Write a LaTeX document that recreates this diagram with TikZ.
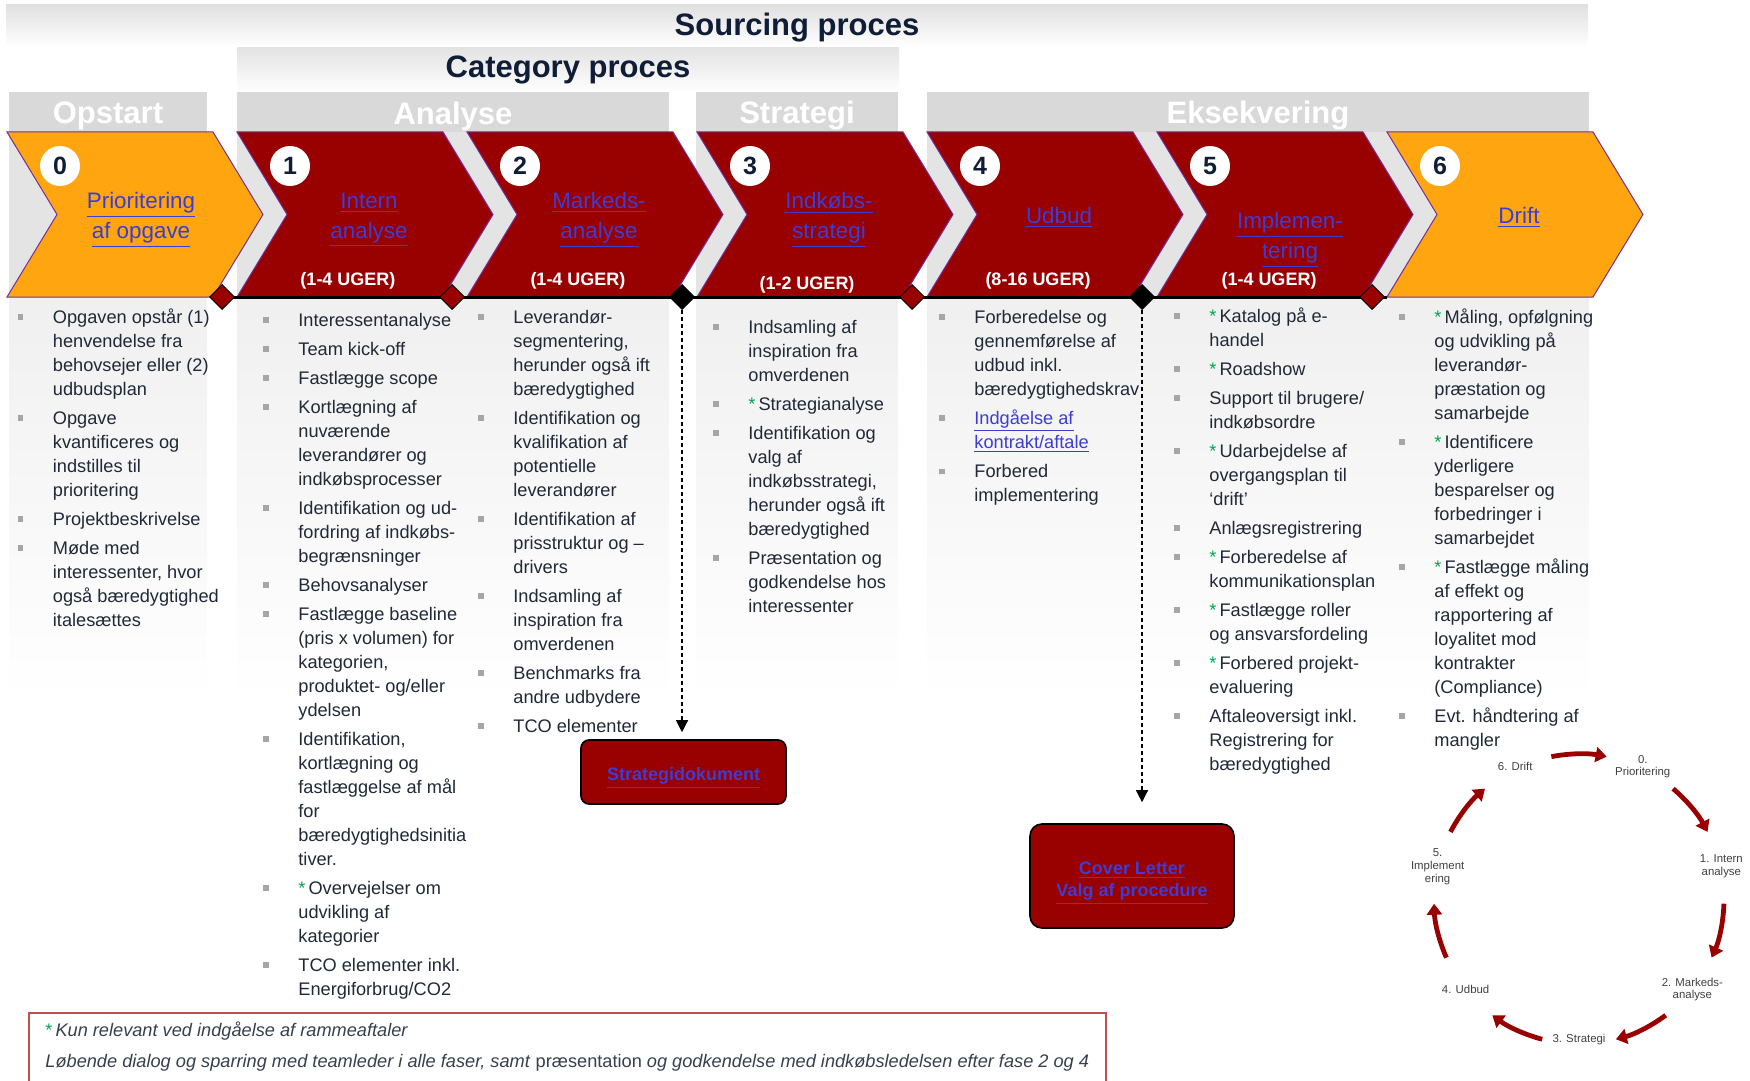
\documentclass[tikz,border=0pt]{standalone}
\usepackage{fontspec}
\setmainfont{Liberation Sans}
\usetikzlibrary{shapes.geometric,arrows.meta,calc}
\definecolor{dred}{HTML}{990000}
\definecolor{orng}{HTML}{FFA510}
\definecolor{purp}{HTML}{7030A0}
\definecolor{navy}{HTML}{0F1E36}
\definecolor{txt}{HTML}{1F2937}
\definecolor{lnk}{HTML}{3C3CD6}
\definecolor{hdr}{HTML}{D9D9D9}
\definecolor{bgg}{HTML}{E4E4E4}
\definecolor{grn}{HTML}{00A651}
\definecolor{bulc}{HTML}{A6A6A6}
\definecolor{notec}{HTML}{C0504D}
\definecolor{cyct}{HTML}{404040}
\definecolor{notet}{HTML}{36404E}
\newcommand\lk[1]{\textcolor{lnk}{\underline{#1}}}
\newcommand\B{\makebox[17.5pt][l]{\raisebox{1.8pt}{\textcolor{bulc}{\rule{2.6pt}{2.6pt}}}}}
\newcommand\gs{\textcolor{grn}{*}\,}
\newcommand\IG{\\[2.5pt]}
\begin{document}
\begin{tikzpicture}[x=0.5pt,y=-0.5pt,
  hdrtxt/.style={text=white,font=\fontsize{15.5}{18}\selectfont\bfseries,inner sep=0},
  bantxt/.style={text=navy,font=\fontsize{15.5}{18}\selectfont\bfseries,inner sep=0},
  numc/.style={circle,fill=white,minimum size=20pt,inner sep=0,text=navy,font=\fontsize{12.5}{14}\selectfont\bfseries},
  ttl/.style={align=center,inner sep=0,font=\fontsize{11.2}{15}\selectfont},
  dur/.style={text=white,inner sep=0,font=\fontsize{9}{11}\selectfont\bfseries},
  dmd/.style={diamond,aspect=1,minimum width=12.5pt,minimum height=12.5pt,inner sep=0,draw=black,line width=0.5pt},
  col/.style={anchor=north west,inner sep=0,text=txt,font=\fontsize{9.1}{12}\selectfont},
  docbox/.style={rounded corners=4pt,fill=dred,draw=black,line width=0.8pt,align=center,font=\fontsize{9}{11}\selectfont\bfseries},
  darr/.style={dash pattern=on 2pt off 1.5pt,line width=0.6pt,-{Triangle[length=6pt,width=6pt]}},
  cyc/.style={draw=dred,line width=2.4pt,-{Triangle[length=5.5pt,width=7.5pt]}},
  cl/.style={align=center,inner sep=0,text=cyct,font=\fontsize{5.7}{6.3}\selectfont},
  note/.style={anchor=west,inner sep=0,text=notet,font=\fontsize{9.1}{10.5}\selectfont}
]
\useasboundingbox (0,0) rectangle (1750,1081);
% banners
\shade[top color=gray!24,bottom color=white] (6,5) rectangle (1588,47);
\shade[top color=gray!22,bottom color=white] (237,48) rectangle (899,92);
\node[bantxt] (src) at (797,28) {Sourcing proces};
\node[bantxt] (cat) at (568,70) {Category proces};
% group backgrounds and headers
\foreach \a/\b in {9/207,237/669,696/898,927/1589}{
  \fill[hdr] (\a,92) rectangle (\b,132);
  \fill[bgg] (\a,132) rectangle (\b,297);
  \shade[top color=gray!12,bottom color=white] (\a,297) rectangle (\b,700);
}
\node[hdrtxt] (h0) at (108,116) {Opstart};
\node[hdrtxt] (h1) at (453,116) {Analyse};
\node[hdrtxt] (h2) at (797,116) {Strategi};
\node[hdrtxt] (h3) at (1258,116) {Eksekvering};
% chevrons
\foreach \i/\c in {0/orng,1/dred,2/dred,3/dred,4/dred,5/dred,6/orng}{
  \pgfmathsetmacro\xx{7+230*\i}
  \filldraw[fill=\c,draw=purp,line width=0.5pt] (\xx,132) -- ++(206,0) -- ++(50,82.5) -- ++(-50,82.5) -- ++(-206,0) -- ++(50,-82.5) -- cycle;
}
\draw[line width=1.5pt] (222,297) -- (1387,297);
\node[dmd,fill=dred] (d0) at (222,297) {};
\node[dmd,fill=dred] (d1) at (452,297) {};
\node[dmd,fill=black] (d2) at (682,297) {};
\node[dmd,fill=dred] (d3) at (912,297) {};
\node[dmd,fill=black] (d4) at (1142,297) {};
\node[dmd,fill=dred] (d5) at (1372,297) {};
% numbers
\foreach \i in {0,...,6}{
  \node[numc] (n\i) at ({60+230*\i},166) {\i};
}
% titles
\node[ttl] (t0) at (141,220) {\lk{Prioritering}\\\lk{af opgave}};
\node[ttl] (t1) at (369,220) {\lk{Intern}\\\lk{analyse}};
\node[ttl] (t2) at (599,220) {\lk{Markeds-}\\\lk{analyse}};
\node[ttl] (t3) at (829,220) {\lk{Indkøbs-}\\\lk{strategi}};
\node[ttl] (t4) at (1059,217) {\lk{Udbud}};
\node[ttl] (t5) at (1290,240) {\lk{Implemen-}\\\lk{tering}};
\node[ttl] (t6) at (1519,217) {\lk{Drift}};
% durations
\node[dur] (u1) at (348,281) {(1-4 UGER)};
\node[dur] (u2) at (578,281) {(1-4 UGER)};
\node[dur] (u3) at (807,285) {(1-2 UGER)};
\node[dur] (u4) at (1038,281) {(8-16 UGER)};
\node[dur] (u5) at (1269,281) {(1-4 UGER)};
% columns
\node[col] (c0) at (17.5,306) {\begin{tabular}{@{}l@{}l@{}}
\B & Opgaven opstår (1)\\
 & henvendelse fra\\
 & behovsejer eller (2)\\
 & udbudsplan\IG
\B & Opgave\\
 & kvantificeres og\\
 & indstilles til\\
 & prioritering\IG
\B & Projektbeskrivelse\IG
\B & Møde med\\
 & interessenter, hvor\\
 & også bæredygtighed\\
 & italesættes
\end{tabular}};
\node[col] (c1) at (263,309) {\begin{tabular}{@{}l@{}l@{}}
\B & Interessentanalyse\IG
\B & Team kick-off\IG
\B & Fastlægge scope\IG
\B & Kortlægning af\\
 & nuværende\\
 & leverandører og\\
 & indkøbsprocesser\IG
\B & Identifikation og ud-\\
 & fordring af indkøbs-\\
 & begrænsninger\IG
\B & Behovsanalyser\IG
\B & Fastlægge baseline\\
 & (pris x volumen) for\\
 & kategorien,\\
 & produktet- og/eller\\
 & ydelsen\IG
\B & Identifikation,\\
 & kortlægning og\\
 & fastlæggelse af mål\\
 & for\\
 & bæredygtighedsinitia\\
 & tiver.\IG
\B & \gs Overvejelser om\\
 & udvikling af\\
 & kategorier\IG
\B & TCO elementer inkl.\\
 & Energiforbrug/CO2
\end{tabular}};
\node[col] (c2) at (478,306) {\begin{tabular}{@{}l@{}l@{}}
\B & Leverandør-\\
 & segmentering,\\
 & herunder også ift\\
 & bæredygtighed\IG
\B & Identifikation og\\
 & kvalifikation af\\
 & potentielle\\
 & leverandører\IG
\B & Identifikation af\\
 & prisstruktur og –\\
 & drivers\IG
\B & Indsamling af\\
 & inspiration fra\\
 & omverdenen\IG
\B & Benchmarks fra\\
 & andre udbydere\IG
\B & TCO elementer
\end{tabular}};
\node[col] (c3) at (713,316) {\begin{tabular}{@{}l@{}l@{}}
\B & Indsamling af\\
 & inspiration fra\\
 & omverdenen\IG
\B & \gs Strategianalyse\IG
\B & Identifikation og\\
 & valg af\\
 & indkøbsstrategi,\\
 & herunder også ift\\
 & bæredygtighed\IG
\B & Præsentation og\\
 & godkendelse hos\\
 & interessenter
\end{tabular}};
\node[col] (c4) at (939,306) {\begin{tabular}{@{}l@{}l@{}}
\B & Forberedelse og\\
 & gennemførelse af\\
 & udbud inkl.\\
 & bæredygtighedskrav\IG
\B & \lk{Indgåelse af}\\
 & \lk{kontrakt/aftale}\IG
\B & Forbered\\
 & implementering
\end{tabular}};
\node[col] (c5) at (1174,305) {\begin{tabular}{@{}l@{}l@{}}
\B & \gs Katalog på e-\\
 & handel\IG
\B & \gs Roadshow\IG
\B & Support til brugere/\\
 & indkøbsordre\IG
\B & \gs Udarbejdelse af\\
 & overgangsplan til\\
 & ‘drift’\IG
\B & Anlægsregistrering\IG
\B & \gs Forberedelse af\\
 & kommunikationsplan\IG
\B & \gs Fastlægge roller\\
 & og ansvarsfordeling\IG
\B & \gs Forbered projekt-\\
 & evaluering\IG
\B & Aftaleoversigt inkl.\\
 & Registrering for\\
 & bæredygtighed
\end{tabular}};
\node[col] (c6) at (1399,306) {\begin{tabular}{@{}l@{}l@{}}
\B & \gs Måling, opfølgning\\
 & og udvikling på\\
 & leverandør-\\
 & præstation og\\
 & samarbejde\IG
\B & \gs Identificere\\
 & yderligere\\
 & besparelser og\\
 & forbedringer i\\
 & samarbejdet\IG
\B & \gs Fastlægge måling\\
 & af effekt og\\
 & rapportering af\\
 & loyalitet mod\\
 & kontrakter\\
 & (Compliance)\IG
\B & Evt. håndtering af\\
 & mangler
\end{tabular}};
% documents
\node[docbox,minimum width=102.5pt,minimum height=32pt] (strat) at (683.5,772) {\rule{0pt}{12.6pt}\lk{Strategidokument}};
\node[docbox,rounded corners=6pt,minimum width=102pt,minimum height=52pt] (cover) at (1132,876) {\rule{0pt}{13.6pt}\lk{Cover Letter}\\\lk{Valg af procedure}};
\draw[darr,shorten >=3.5pt] (d2.south) -- (d2.south |- strat.north);
\draw[darr,shorten >=10.5pt] (d4.south) -- (d4.south |- cover.north);
% note
\draw[notec,line width=1pt] (29,1095) -- (29,1013) -- (1106,1013) -- (1106,1095);
\node[note] (note1) at (45,1031) {\gs\textit{Kun relevant ved indgåelse af rammeaftaler}};
\node[note] (note2) at (45,1063) {\textit{Løbende dialog og sparring med teamleder i alle faser, samt} præsentation \textit{og godkendelse med indkøbsledelsen efter fase 2 og 4}};
% cycle
\begin{scope}[shift={(1579,899)},x=0.5pt,y=0.5pt]
  \foreach \k in {0,...,6}{
    \pgfmathsetmacro\m{90-51.4286*\k}
    \coordinate (cs\k) at ({\m+11}:145);
    \draw[cyc] (cs\k) arc[start angle={\m+11},end angle={\m-11},radius=145];
  }
  \node[cl] (cl0) at (64.29:147) {0.\\Prioritering};
  \node[cl] (cl1) at (12.86:146) {1. Intern\\analyse};
  \node[cl] (cl2) at (-38.57:145) {2. Markeds-\\analyse};
  \node[cl] (cl3) at (-90:141) {3. Strategi};
  \node[cl] (cl4) at (-141.43:145) {4. Udbud};
  \node[cl] (cl5) at (167.14:145) {5.\\Implement\\ering};
  \node[cl] (cl6) at (115.71:147) {6. Drift};
\end{scope}
\end{tikzpicture}
\end{document}
